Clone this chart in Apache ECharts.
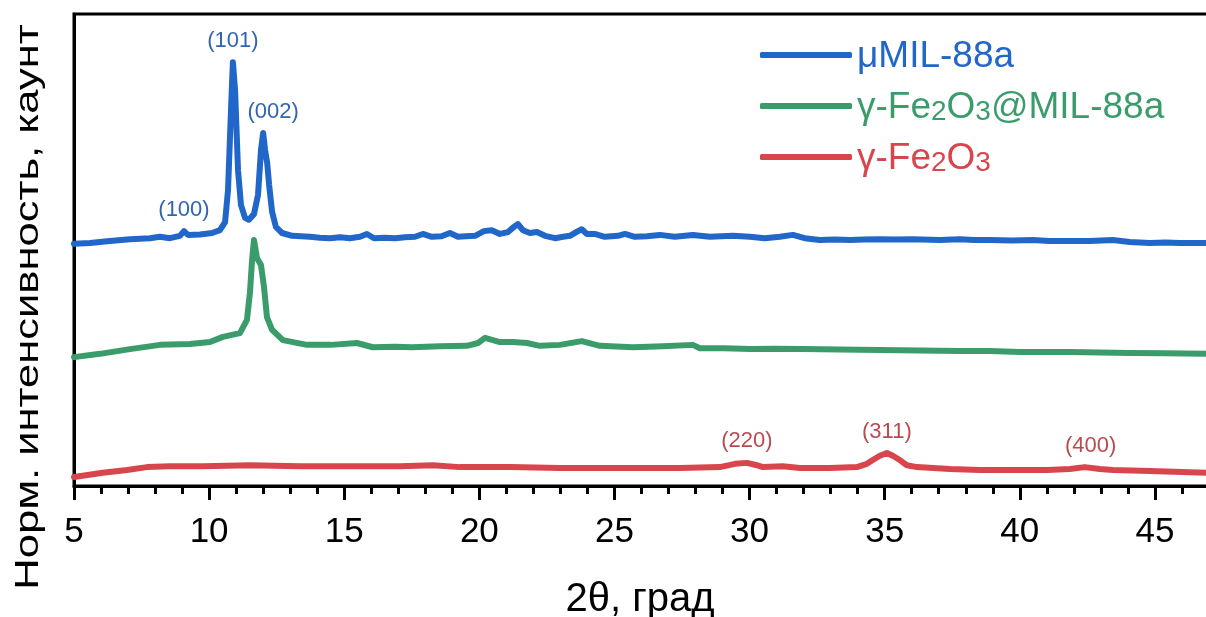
<!DOCTYPE html>
<html>
<head>
<meta charset="utf-8">
<script src="https://cdn.jsdelivr.net/npm/echarts@6/dist/echarts.min.js"></script>
<style>
  html, body { margin: 0; padding: 0; background: #fff; }
  #chart { width: 1206px; height: 617px; }
</style>
</head>
<body>
<div id="chart"></div>
<script>
// XRD patterns, [2θ (deg), normalised intensity (offset stack, a.u.)]
const mil88a = [
  [5.00,51.3],[5.59,51.5],[6.33,51.9],[7.07,52.3],[7.81,52.5],[8.18,52.8],[8.55,52.5],[8.92,53.0],
  [9.07,54.0],[9.22,53.2],[9.66,53.3],[10.11,53.6],[10.40,54.2],[10.59,55.9],[10.70,62.7],[10.81,79.7],
  [10.88,89.8],[10.96,83.9],[11.07,66.9],[11.18,59.5],[11.33,56.8],[11.47,56.4],[11.66,57.6],[11.81,61.7],
  [11.92,71.2],[12.00,74.8],[12.07,71.2],[12.15,68.4],[12.22,63.8],[12.33,58.1],[12.47,54.9],[12.70,53.6],
  [13.07,53.0],[13.73,52.8],[14.10,52.6],[14.47,52.5],[14.85,52.7],[15.21,52.5],[15.58,52.8],[15.84,53.4],
  [16.10,52.5],[16.50,52.6],[16.88,52.5],[17.25,52.7],[17.62,52.8],[17.91,53.4],[18.24,52.8],[18.60,52.9],
  [18.91,53.6],[19.21,52.8],[19.50,52.9],[19.84,53.0],[20.17,54.0],[20.46,54.2],[20.76,53.4],[21.06,53.8],
  [21.28,54.9],[21.43,55.5],[21.61,54.2],[21.87,53.6],[22.13,53.8],[22.43,53.0],[22.80,52.5],[23.10,52.8],
  [23.35,53.0],[23.65,54.0],[23.79,54.4],[23.98,53.4],[24.27,53.4],[24.64,52.8],[25.13,53.0],[25.39,53.4],
  [25.75,52.8],[26.20,52.9],[26.68,53.2],[27.23,52.8],[27.90,53.2],[28.53,52.8],[28.95,52.9],[29.38,53.0],
  [30.01,52.8],[30.56,52.5],[31.12,52.8],[31.60,53.2],[32.04,52.5],[32.60,52.1],[33.15,52.2],[33.71,52.1],
  [34.25,52.2],[34.82,52.3],[35.40,52.2],[36.04,52.3],[37.04,52.1],[37.78,52.3],[38.30,52.1],[38.89,52.1],
  [39.70,52.0],[40.48,52.1],[41.10,51.9],[41.74,51.9],[42.59,51.9],[43.44,52.1],[44.07,51.7],[44.81,51.5],
  [45.40,51.6],[45.92,51.5],[46.88,51.5],[48.00,51.4]
];
const feMil88a = [
  [5.00,27.3],[5.96,28.0],[7.07,29.0],[8.18,29.9],[9.29,30.1],[10.03,30.5],[10.51,31.6],[11.14,32.4],
  [11.40,35.2],[11.51,40.9],[11.59,47.9],[11.66,52.1],[11.77,48.3],[11.92,46.8],[12.03,42.2],[12.14,35.8],
  [12.33,33.1],[12.73,30.9],[13.62,29.9],[14.51,29.9],[15.47,30.3],[16.06,29.4],[16.88,29.5],[17.50,29.4],
  [18.54,29.6],[19.54,29.7],[19.95,30.3],[20.21,31.4],[20.76,30.5],[21.24,30.5],[21.76,30.3],[22.24,29.7],
  [22.98,29.9],[23.79,30.7],[24.46,29.7],[25.68,29.4],[26.79,29.6],[27.90,29.9],[28.16,29.2],[29.08,29.2],
  [30.01,29.0],[30.93,29.1],[31.96,29.0],[33.34,28.9],[34.82,28.8],[36.30,28.7],[37.78,28.6],[38.89,28.6],
  [40.00,28.4],[41.85,28.4],[44.07,28.2],[45.36,28.1],[46.88,28.0],[48.00,28.0]
];
const fe2o3 = [
  [5.00,1.9],[6.07,2.8],[6.96,3.4],[7.70,4.0],[8.55,4.2],[9.77,4.2],[11.51,4.4],[13.36,4.2],
  [15.21,4.2],[17.06,4.2],[18.28,4.4],[19.28,4.0],[21.13,4.0],[22.98,3.8],[25.20,3.8],[27.42,3.8],
  [28.90,4.0],[29.46,4.7],[29.90,4.9],[30.27,4.4],[30.49,4.0],[31.23,4.2],[31.86,3.8],[32.97,3.8],
  [33.97,4.0],[34.34,4.7],[34.56,5.5],[34.82,6.4],[35.08,7.0],[35.30,6.4],[35.56,5.5],[35.82,4.4],
  [36.19,4.0],[37.41,3.6],[38.52,3.4],[41.00,3.4],[41.85,3.6],[42.40,4.0],[42.96,3.6],[43.44,3.4],
  [44.81,3.2],[46.88,2.8],[48.00,2.7]
];

// Miller indices of the labelled reflections: [label, 2θ, intensity at peak]
const milPeaks = [['(100)', 9.07, 54.0], ['(101)', 10.88, 89.8], ['(002)', 12.00, 74.8]];
const fePeaks = [['(220)', 29.90, 4.9], ['(311)', 35.08, 7.0], ['(400)', 42.40, 4.0]];

const seriesNames = ['μMIL-88a', 'γ-Fe2O3@MIL-88a', 'γ-Fe2O3'];
const xTicks = [5, 10, 15, 20, 25, 30, 35, 40, 45];

const colors = ['#2166c9', '#3b9c6b', '#d9454d'];
const peakLabelColors = { blue: '#3265ae', red: '#b94a50' };
const FONT = '"Liberation Sans", Arial, sans-serif';

// horizontal nudges for individual peak labels
const labelShift = { '(002)': 10, '(400)': 6 };

function peakMarks(peaks, color) {
  return {
    symbol: 'circle',
    symbolSize: 1,
    silent: true,
    itemStyle: { color: 'rgba(0,0,0,0)' },
    label: {
      show: true, position: 'top', distance: 10, formatter: '{b}',
      color: color, fontSize: 22, fontFamily: FONT
    },
    data: peaks.map(p => ({
      name: p[0], coord: [p[1], p[2]],
      label: { offset: [labelShift[p[0]] || 0, 0] }
    }))
  };
}

// legend text with subscripted stoichiometry
function legendRich(color) {
  return {
    b: { fontSize: 37, lineHeight: 40, verticalAlign: 'bottom', color: color, fontFamily: FONT },
    s: { fontSize: 28, lineHeight: 16, verticalAlign: 'bottom', color: color, fontFamily: FONT }
  };
}
function legendFormat(name) {
  return name.split(/(\d)(?=O|@|$)/).filter(s => s !== '').map(part =>
    /^\d$/.test(part) ? '{s|' + part + '}' : '{b|' + part + '}').join('');
}

const chart = echarts.init(document.getElementById('chart'), null, { renderer: 'canvas' });

const datasets = [mil88a, feMil88a, fe2o3];
const series = datasets.map((d, i) => ({
  name: seriesNames[i],
  type: 'line',
  data: d,
  showSymbol: false,
  symbol: 'none',
  lineStyle: { color: colors[i], width: 6, cap: 'round', join: 'round' },
  itemStyle: { color: colors[i] },
  emphasis: { disabled: true },
  z: 3 - i
}));
series[0].markPoint = peakMarks(milPeaks, peakLabelColors.blue);
series[2].markPoint = peakMarks(fePeaks, peakLabelColors.red);

chart.setOption({
  animation: false,
  backgroundColor: '#ffffff',
  grid: {
    left: 74, top: 14, bottom: 131, width: 1162,
    outerBoundsMode: 'none', containLabel: false,
    show: true, borderColor: '#000', borderWidth: 3, backgroundColor: 'transparent'
  },
  legend: {
    orient: 'vertical',
    left: 755, top: 33,
    itemWidth: 92, itemHeight: 6, itemGap: 14,
    icon: 'roundRect',
    selectedMode: false,
    formatter: legendFormat,
    data: seriesNames.map((n, i) => ({
      name: n,
      itemStyle: { color: colors[i] },
      textStyle: { color: colors[i], rich: legendRich(colors[i]) }
    }))
  },
  xAxis: {
    type: 'value',
    min: 5, max: 48, interval: 5,
    name: '2θ, град',
    nameLocation: 'middle',
    nameGap: 94,
    nameTextStyle: { fontSize: 40, color: '#000', fontFamily: FONT, padding: [0, 30, 0, 0] },
    axisLine: { onZero: false, lineStyle: { color: '#000', width: 3 } },
    axisTick: { show: true, inside: false, length: 14, lineStyle: { color: '#000', width: 3 } },
    minorTick: { show: true, splitNumber: 5, length: 8, lineStyle: { color: '#000', width: 3 } },
    splitLine: { show: false },
    axisLabel: {
      fontSize: 35, color: '#000', fontFamily: FONT, margin: 29,
      customValues: xTicks
    }
  },
  yAxis: {
    type: 'value',
    min: 0, max: 100,
    axisLine: { show: true, lineStyle: { color: '#000', width: 3 } },
    axisTick: { show: false },
    axisLabel: { show: false },
    splitLine: { show: false }
  },
  graphic: [{
    type: 'text',
    x: 29, y: 307,
    rotation: Math.PI / 2,
    scaleX: 1.28,
    style: {
      text: 'Норм. интенсивность, каунт',
      fontSize: 34, fontFamily: FONT, fill: '#000',
      align: 'center', verticalAlign: 'middle'
    }
  }],
  series: series
});
</script>
</body>
</html>
